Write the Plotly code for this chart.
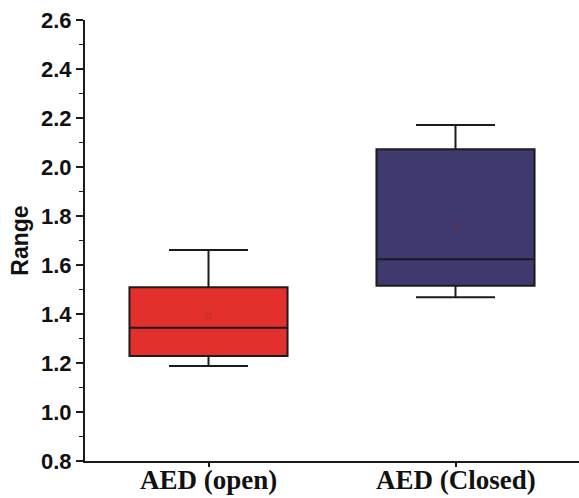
import plotly.graph_objects as go

categories = ["AED (open)", "AED (Closed)"]
q1 = [1.229, 1.515]
median = [1.344, 1.623]
q3 = [1.509, 2.072]
lower_whisker = [1.188, 1.468]
upper_whisker = [1.661, 2.171]
mean = [1.392, 1.759]
fill_colors = ["#E3302D", "#3E396E"]
mean_colors = ["#C0303A", "#6A2D4A"]

fig = go.Figure()
for i, cat in enumerate(categories):
    fig.add_trace(go.Box(
        x=[cat], q1=[q1[i]], median=[median[i]], q3=[q3[i]],
        lowerfence=[lower_whisker[i]], upperfence=[upper_whisker[i]],
        fillcolor=fill_colors[i],
        line=dict(color="#1c1c1c", width=2),
        width=0.64, whiskerwidth=0.5,
        boxpoints=False, showlegend=False, hoverinfo="skip",
    ))
    fig.add_trace(go.Scatter(
        x=[cat], y=[mean[i]], mode="markers",
        marker=dict(symbol="square-open", size=5, color=mean_colors[i], line=dict(width=1)),
        showlegend=False, hoverinfo="skip",
    ))
    fig.add_annotation(
        x=cat, xref="x", y=0, yref="paper", yanchor="top", yshift=-2,
        text=cat, showarrow=False,
        font=dict(family="Liberation Serif", size=27, color="#111111", weight="bold"),
    )

fig.update_layout(
    width=579, height=498,
    margin=dict(l=85, r=0, t=20, b=37),
    plot_bgcolor="white", paper_bgcolor="white",
    boxmode="overlay",
)
fig.update_xaxes(
    type="category", range=[-0.5, 1.5], automargin=False,
    showline=True, linecolor="#1c1c1c", linewidth=2,
    ticks="outside", ticklen=4, tickwidth=1.5, tickcolor="#1c1c1c",
    showticklabels=False,
    showgrid=False, zeroline=False,
)
fig.update_yaxes(
    range=[0.8, 2.6], dtick=0.2, tickformat=".1f", automargin=False,
    showline=True, linecolor="#1c1c1c", linewidth=2,
    ticks="outside", ticklen=7, tickwidth=1.5, tickcolor="#1c1c1c",
    minor=dict(dtick=0.1, ticks="outside", ticklen=4, tickwidth=1.2, tickcolor="#1c1c1c", showgrid=False),
    tickfont=dict(family="Liberation Sans", size=22, color="#111111", weight="bold"),
    title=dict(text="Range", font=dict(family="Liberation Sans", size=23, color="#111111", weight="bold"), standoff=6),
    showgrid=False, zeroline=False,
)

fig.write_html("out.html")
